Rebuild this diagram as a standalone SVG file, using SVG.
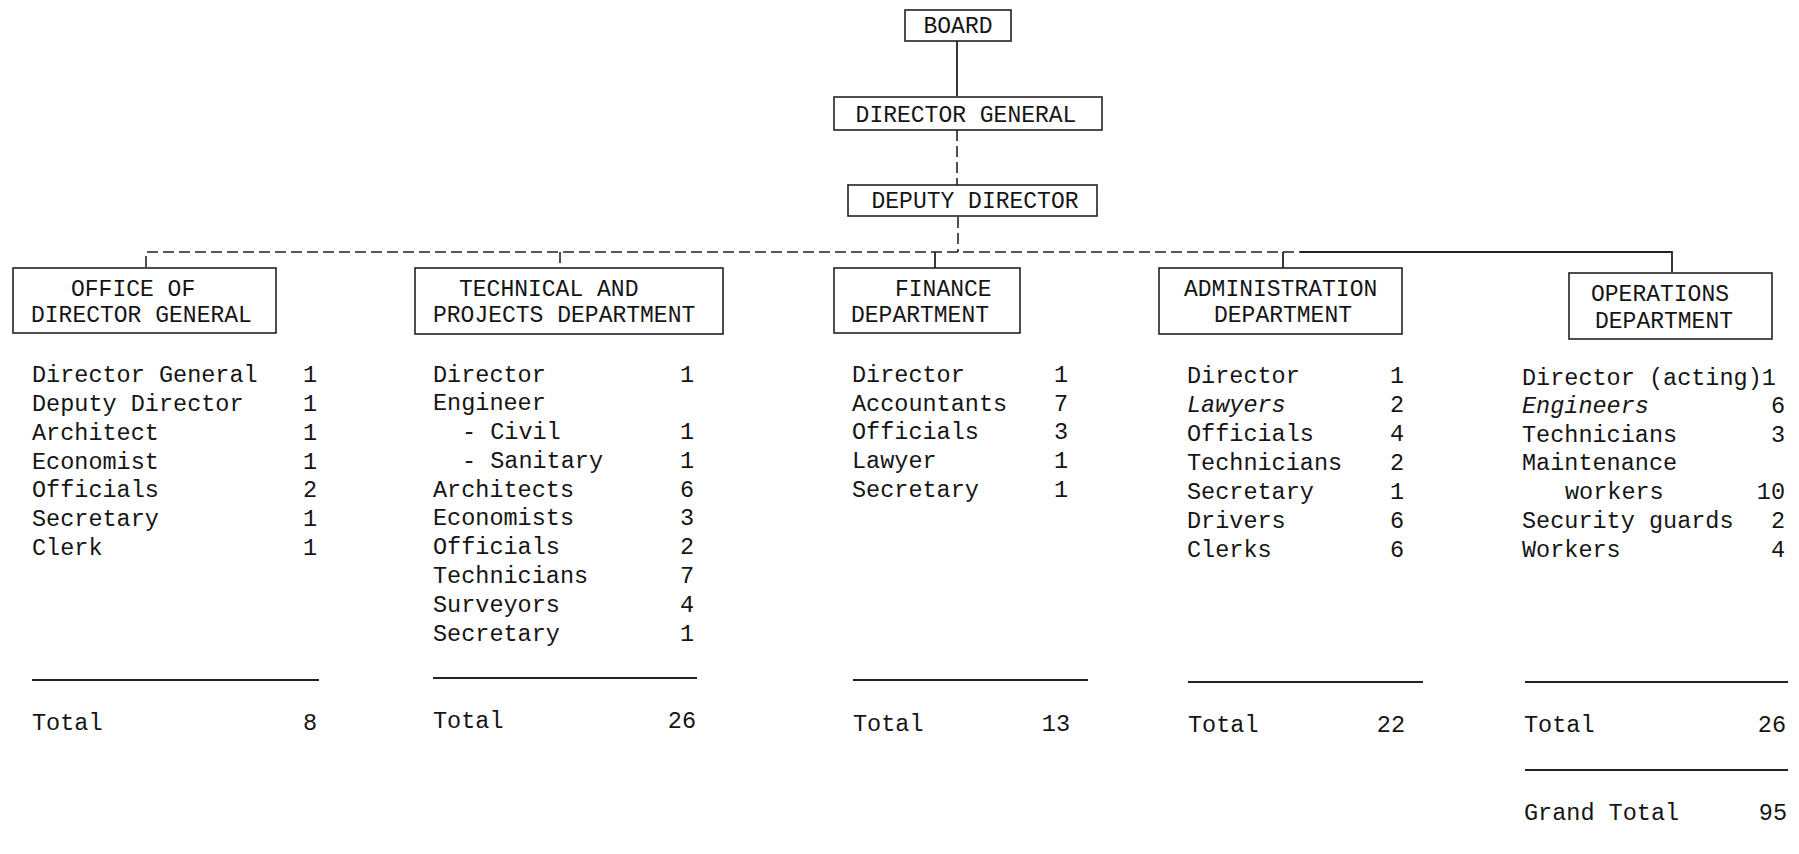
<svg xmlns="http://www.w3.org/2000/svg" width="1799" height="854" viewBox="0 0 1799 854">
<style>
  text { font-family: "Liberation Mono", "DejaVu Sans Mono", monospace; font-size: 23.5px; fill: #151515; }
  .hd { font-size: 23px; }
  .num { text-anchor: end; }
  .it { font-style: italic; }
  .box { fill: none; stroke: #222; stroke-width: 1.6; }
  .solid { fill: none; stroke: #222; stroke-width: 1.8; }
  .dash { fill: none; stroke: #222; stroke-width: 1.6; stroke-dasharray: 11 5; }
  .rule { stroke: #222; stroke-width: 2.2; }
</style>
<rect width="1799" height="854" fill="#fff"/>

<g id="connectors">
  <line class="solid" x1="957" y1="41" x2="957" y2="96"/>
  <line class="dash" x1="957" y1="130" x2="957" y2="185"/>
  <line class="dash" x1="958" y1="217" x2="958" y2="252"/>
  <path class="dash" d="M146,267 V252 H1672"/>
  <path class="solid" d="M1300,252 H1672 V272"/>
  <line class="dash" x1="560" y1="252" x2="560" y2="268"/>
  <line class="solid" x1="935" y1="252" x2="935" y2="268"/>
  <line class="solid" x1="1283" y1="252" x2="1283" y2="268"/>
</g>

<g id="board">
  <rect class="box" x="905" y="10" width="106" height="31"/>
  <text x="958" y="33" text-anchor="middle" class="hd">BOARD</text>
</g>
<g id="director-general">
  <rect class="box" x="834" y="97" width="268" height="33"/>
  <text x="966" y="122" text-anchor="middle" class="hd">DIRECTOR GENERAL</text>
</g>
<g id="deputy-director">
  <rect class="box" x="848" y="185" width="249" height="31"/>
  <text x="975" y="208" text-anchor="middle" class="hd">DEPUTY DIRECTOR</text>
</g>

<g id="office-dg">
  <rect class="box" x="13" y="268" width="263" height="65"/>
  <text x="71" y="296" class="hd">OFFICE OF</text>
  <text x="31" y="322" class="hd">DIRECTOR GENERAL</text>
</g>
<g id="technical">
  <rect class="box" x="415" y="268" width="308" height="66"/>
  <text x="459" y="296" class="hd">TECHNICAL AND</text>
  <text x="433" y="322" class="hd">PROJECTS DEPARTMENT</text>
</g>
<g id="finance">
  <rect class="box" x="834" y="268" width="186" height="65"/>
  <text x="895" y="296" class="hd">FINANCE</text>
  <text x="851" y="322" class="hd">DEPARTMENT</text>
</g>
<g id="administration">
  <rect class="box" x="1159" y="268" width="243" height="66"/>
  <text x="1184" y="296" class="hd">ADMINISTRATION</text>
  <text x="1214" y="322" class="hd">DEPARTMENT</text>
</g>
<g id="operations">
  <rect class="box" x="1569" y="273" width="203" height="66"/>
  <text x="1591" y="301" class="hd">OPERATIONS</text>
  <text x="1595" y="328" class="hd">DEPARTMENT</text>
</g>

<g id="list-office">
  <text x="32" y="382">Director General</text><text class="num" x="317" y="382">1</text>
  <text x="32" y="411">Deputy Director</text><text class="num" x="317" y="411">1</text>
  <text x="32" y="440">Architect</text><text class="num" x="317" y="440">1</text>
  <text x="32" y="469">Economist</text><text class="num" x="317" y="469">1</text>
  <text x="32" y="497">Officials</text><text class="num" x="317" y="497">2</text>
  <text x="32" y="526">Secretary</text><text class="num" x="317" y="526">1</text>
  <text x="32" y="555">Clerk</text><text class="num" x="317" y="555">1</text>
  <line class="rule" x1="32" y1="680" x2="319" y2="680"/>
  <text x="32" y="730">Total</text><text class="num" x="317" y="730">8</text>
</g>

<g id="list-technical">
  <text x="433" y="382">Director</text><text class="num" x="694" y="382">1</text>
  <text x="433" y="410">Engineer</text>
  <text x="462" y="439">- Civil</text><text class="num" x="694" y="439">1</text>
  <text x="462" y="468">- Sanitary</text><text class="num" x="694" y="468">1</text>
  <text x="433" y="497">Architects</text><text class="num" x="694" y="497">6</text>
  <text x="433" y="525">Economists</text><text class="num" x="694" y="525">3</text>
  <text x="433" y="554">Officials</text><text class="num" x="694" y="554">2</text>
  <text x="433" y="583">Technicians</text><text class="num" x="694" y="583">7</text>
  <text x="433" y="612">Surveyors</text><text class="num" x="694" y="612">4</text>
  <text x="433" y="641">Secretary</text><text class="num" x="694" y="641">1</text>
  <line class="rule" x1="433" y1="678" x2="697" y2="678"/>
  <text x="433" y="728">Total</text><text class="num" x="696" y="728">26</text>
</g>

<g id="list-finance">
  <text x="852" y="382">Director</text><text class="num" x="1068" y="382">1</text>
  <text x="852" y="411">Accountants</text><text class="num" x="1068" y="411">7</text>
  <text x="852" y="439">Officials</text><text class="num" x="1068" y="439">3</text>
  <text x="852" y="468">Lawyer</text><text class="num" x="1068" y="468">1</text>
  <text x="852" y="497">Secretary</text><text class="num" x="1068" y="497">1</text>
  <line class="rule" x1="853" y1="680" x2="1088" y2="680"/>
  <text x="853" y="731">Total</text><text class="num" x="1070" y="731">13</text>
</g>

<g id="list-administration">
  <text x="1187" y="383">Director</text><text class="num" x="1404" y="383">1</text>
  <text x="1187" y="412" class="it">Lawyers</text><text class="num" x="1404" y="412">2</text>
  <text x="1187" y="441">Officials</text><text class="num" x="1404" y="441">4</text>
  <text x="1187" y="470">Technicians</text><text class="num" x="1404" y="470">2</text>
  <text x="1187" y="499">Secretary</text><text class="num" x="1404" y="499">1</text>
  <text x="1187" y="528">Drivers</text><text class="num" x="1404" y="528">6</text>
  <text x="1187" y="557">Clerks</text><text class="num" x="1404" y="557">6</text>
  <line class="rule" x1="1188" y1="682" x2="1423" y2="682"/>
  <text x="1188" y="732">Total</text><text class="num" x="1405" y="732">22</text>
</g>

<g id="list-operations">
  <text x="1522" y="385">Director (acting)1</text>
  <text x="1522" y="413" class="it">Engineers</text><text class="num" x="1785" y="413">6</text>
  <text x="1522" y="442">Technicians</text><text class="num" x="1785" y="442">3</text>
  <text x="1522" y="470">Maintenance</text>
  <text x="1565" y="499">workers</text><text class="num" x="1785" y="499">10</text>
  <text x="1522" y="528">Security guards</text><text class="num" x="1785" y="528">2</text>
  <text x="1522" y="557">Workers</text><text class="num" x="1785" y="557">4</text>
  <line class="rule" x1="1525" y1="682" x2="1788" y2="682"/>
  <text x="1524" y="732">Total</text><text class="num" x="1786" y="732">26</text>
  <line class="rule" x1="1525" y1="770" x2="1788" y2="770"/>
  <text x="1524" y="820">Grand Total</text><text class="num" x="1787" y="820">95</text>
</g>
</svg>
